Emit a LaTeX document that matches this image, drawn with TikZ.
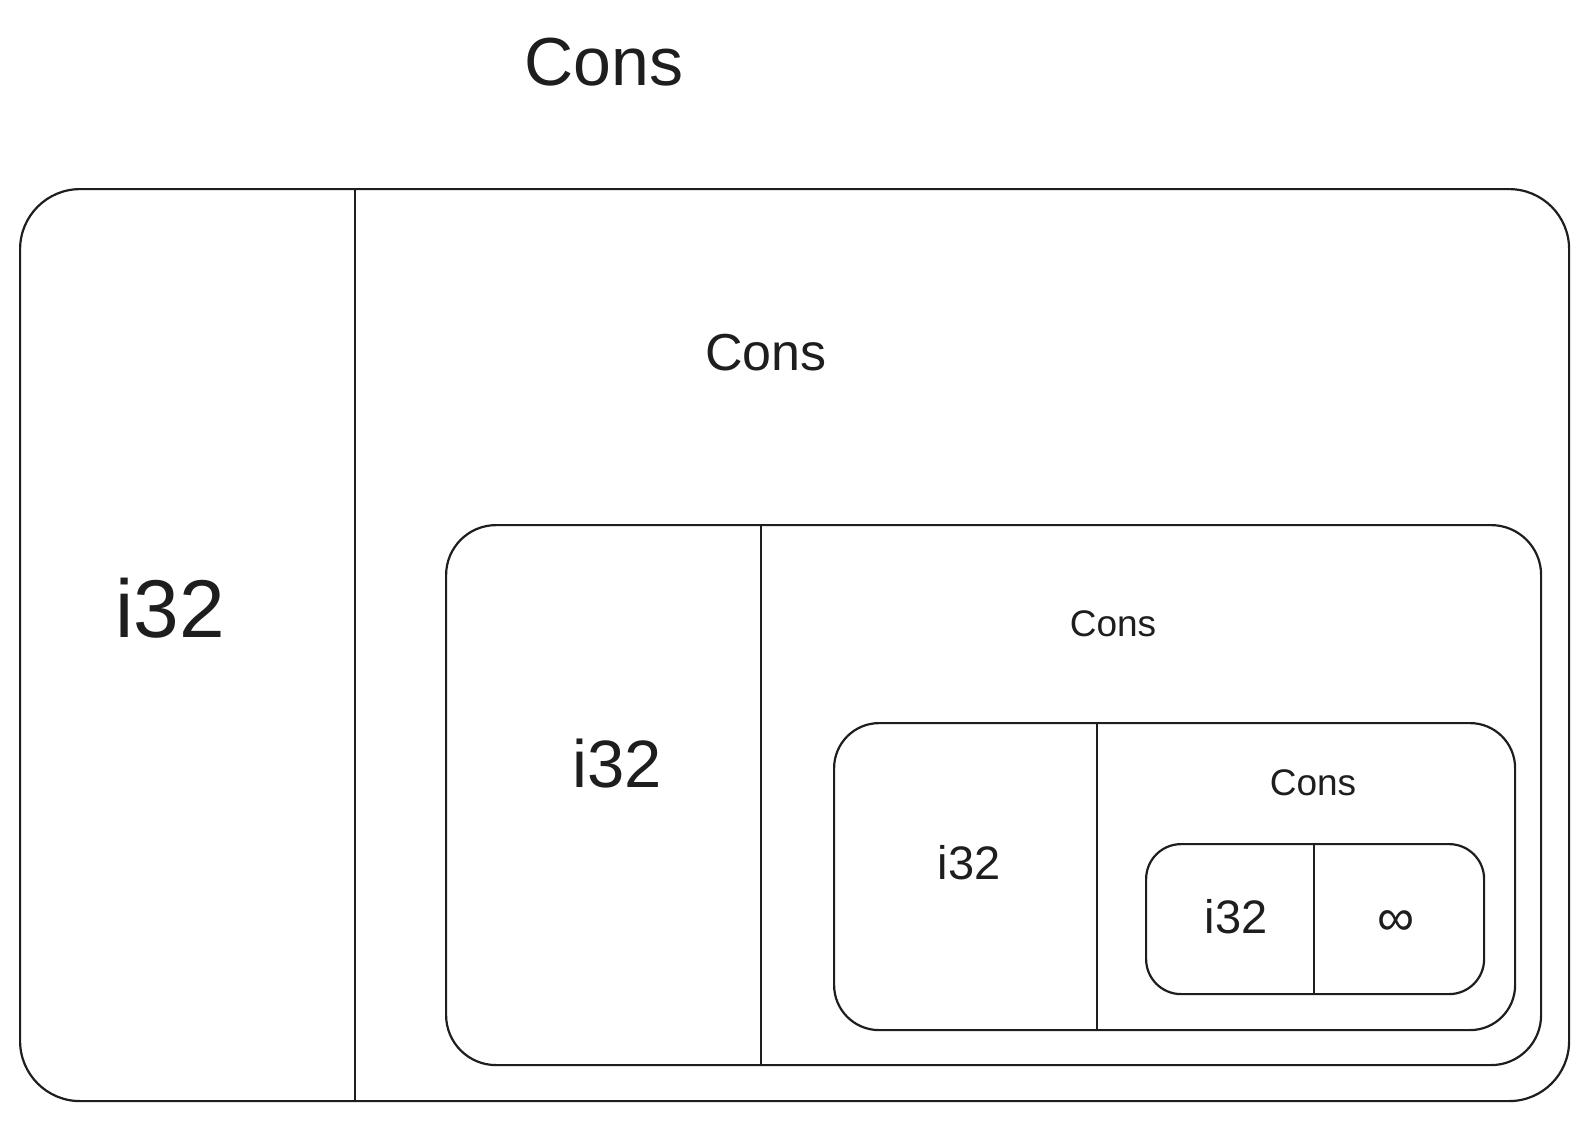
\documentclass[tikz,border=0pt]{standalone}
\usepackage{fontspec}
\setmainfont{Liberation Sans}
\definecolor{inkgray}{RGB}{30,30,30}

\begin{document}
\begin{tikzpicture}[x=1pt, y=-1pt,
    cell/.style={draw=inkgray, line width=2.2pt, rectangle, anchor=north west, inner sep=0pt},
    sep/.style={draw=inkgray, line width=2.2pt},
    lbl/.style={inner sep=0pt, anchor=base, text=inkgray}]
  \useasboundingbox (0,0) rectangle (1586,1121);

  % nested boxes, outer to inner
  \node[cell, rounded corners=60pt, minimum width=1549pt, minimum height=912pt] (box1) at (19,188) {};
  \node[cell, rounded corners=50pt, minimum width=1095pt, minimum height=540pt] (box2) at (445,524) {};
  \node[cell, rounded corners=45pt, minimum width=681pt, minimum height=307pt] (box3) at (833,722) {};
  \node[cell, rounded corners=35pt, minimum width=338pt, minimum height=150pt] (box4) at (1145,843) {};

  % dividers between the two fields
  \foreach \b/\x in {box1/355, box2/761, box3/1097, box4/1314} {
    \coordinate (d) at (\x,0);
    \draw[sep] (d |- \b.north) -- (d |- \b.south);
  }

  % labels
  \node[lbl, font=\fontsize{68}{70}\selectfont] (cons1) at (604,86) {Cons};
  \node[lbl, font=\fontsize{82}{84}\selectfont] (int1) at (170,637) {i32};
  \node[lbl, font=\fontsize{52}{54}\selectfont] (cons2) at (766,370) {Cons};
  \node[lbl, font=\fontsize{67}{69}\selectfont] (int2) at (617,787) {i32};
  \node[lbl, font=\fontsize{37}{39}\selectfont] (cons3) at (1113,636) {Cons};
  \node[lbl, font=\fontsize{47}{49}\selectfont] (int3) at (969,879) {i32};
  \node[lbl, font=\fontsize{37}{39}\selectfont] (cons4) at (1313,795) {Cons};
  \node[lbl, font=\fontsize{47}{49}\selectfont] (int4) at (1236,933) {i32};
  \node[inner sep=0pt, text=inkgray, font=\fontsize{52}{54}\selectfont] (inf) at (1396,923) {∞};
\end{tikzpicture}
\end{document}
